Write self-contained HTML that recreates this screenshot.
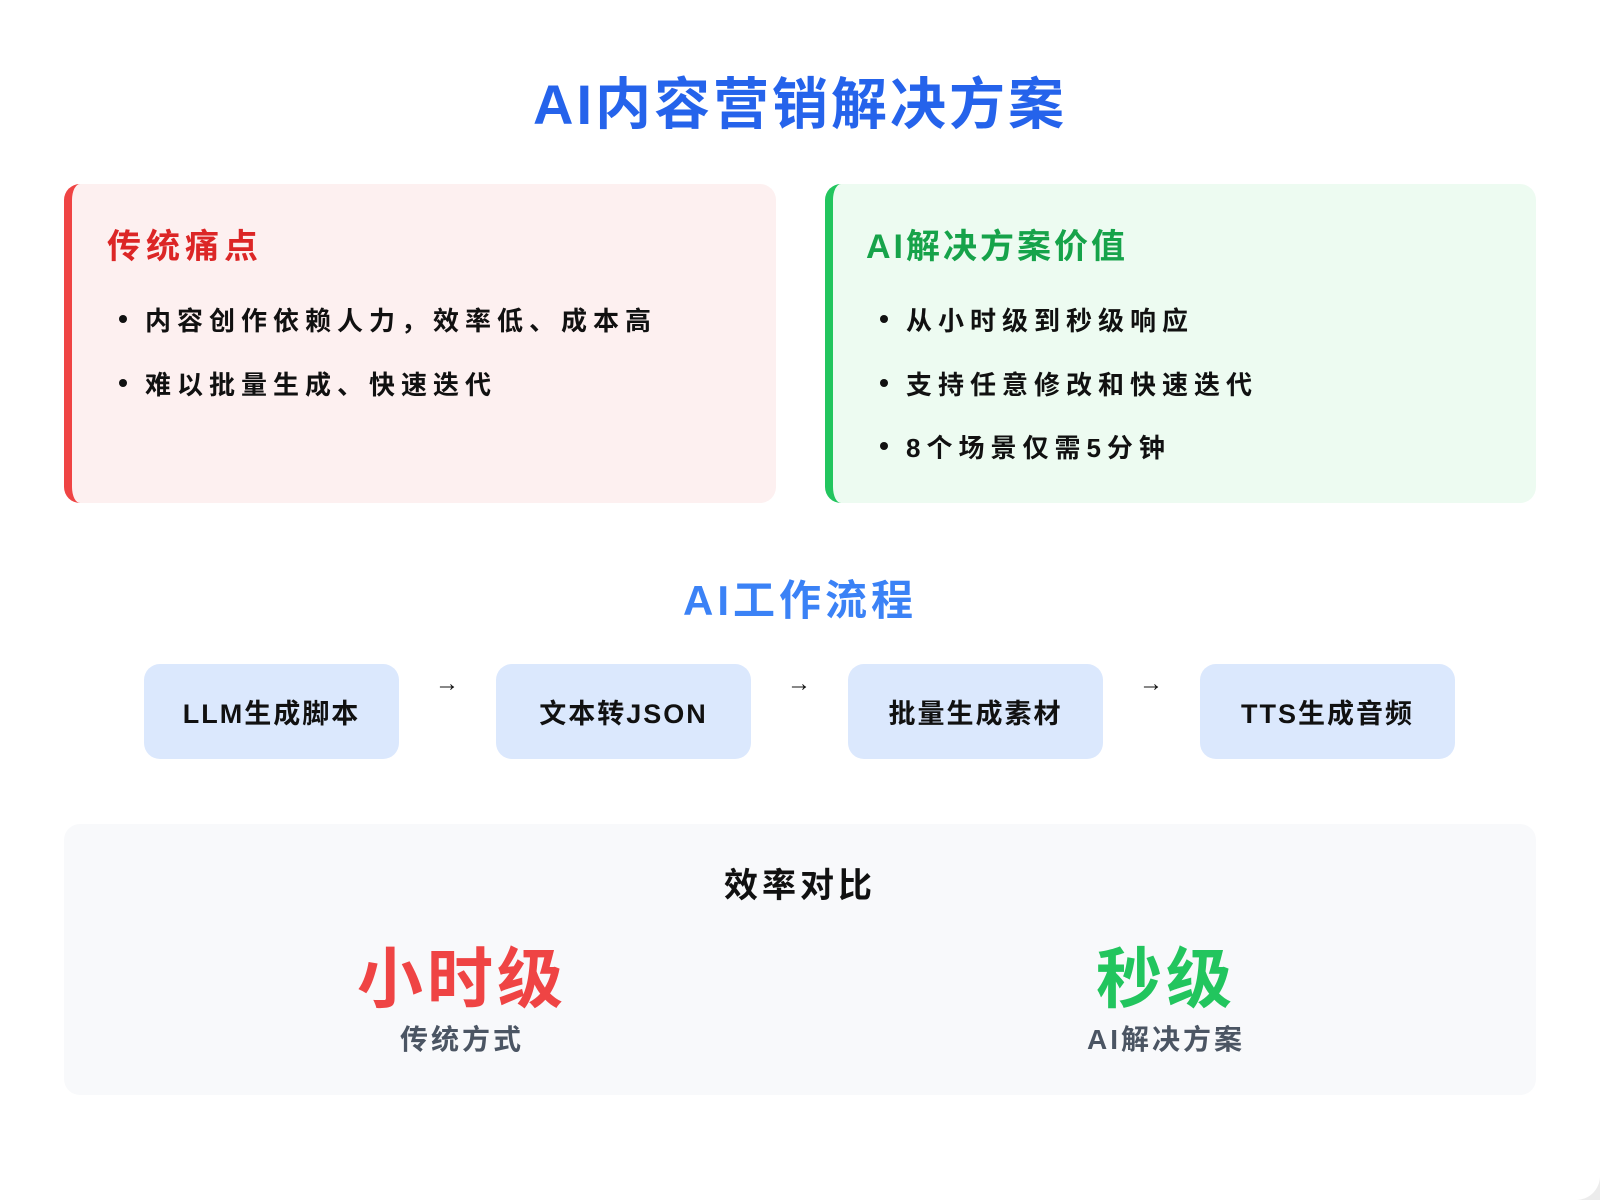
<!DOCTYPE html>
<html><head><meta charset="utf-8"><style>
body{margin:0;width:1600px;height:1200px;background:#ececec;font-family:"Liberation Sans","Noto Sans CJK SC",sans-serif;}
#pg{position:absolute;left:0;top:0;width:1600px;height:1200px;background:#fff;border-radius:0 0 24px 0;overflow:hidden}
.a{position:absolute}
.t{position:absolute;white-space:nowrap;font-weight:700}
.card{position:absolute;top:184px;height:319px;border-radius:16px;box-sizing:border-box}
.li{position:absolute;font-size:26px;font-weight:700;color:#111;white-space:nowrap;letter-spacing:6px}
.li:before{content:"";position:absolute;left:-26px;top:14px;width:8px;height:8px;border-radius:50%;background:#111}
.fb{position:absolute;top:664px;width:255px;height:95px;background:#dbe8fd;border-radius:16px;display:flex;align-items:center;justify-content:center;font-size:27px;font-weight:700;color:#111;letter-spacing:2px}
.ar{position:absolute;top:670px;font-size:24px;color:#111}
</style></head><body><div id="pg">
<div class="t" style="left:0;width:1600px;text-align:center;top:60px;font-size:56px;color:#2563eb;letter-spacing:3px">AI内容营销解决方案</div>

<div class="card" style="left:64px;width:712px;background:#fdf0f0;border-left:8px solid #ef4444"></div>
<div class="t" style="left:107px;top:219px;font-size:34px;color:#dc2626;letter-spacing:5px">传统痛点</div>
<div class="li" style="left:145px;top:301px">内容创作依赖人力，效率低、成本高</div>
<div class="li" style="left:145px;top:365px">难以批量生成、快速迭代</div>

<div class="card" style="left:825px;width:711px;background:#edfbf1;border-left:8px solid #22c55e"></div>
<div class="t" style="left:866px;top:219px;font-size:34px;color:#16a34a;letter-spacing:3px">AI解决方案价值</div>
<div class="li" style="left:906px;top:301px">从小时级到秒级响应</div>
<div class="li" style="left:906px;top:365px">支持任意修改和快速迭代</div>
<div class="li" style="left:906px;top:428px">8个场景仅需5分钟</div>

<div class="t" style="left:0;width:1600px;text-align:center;top:567px;font-size:42px;color:#3b82f6;letter-spacing:4px">AI工作流程</div>
<div class="fb" style="left:144px">LLM生成脚本</div>
<div class="ar" style="left:435px">→</div>
<div class="fb" style="left:496px">文本转JSON</div>
<div class="ar" style="left:787px">→</div>
<div class="fb" style="left:848px">批量生成素材</div>
<div class="ar" style="left:1139px">→</div>
<div class="fb" style="left:1200px">TTS生成音频</div>

<div class="a" style="left:64px;top:824px;width:1472px;height:271px;background:#f8f9fb;border-radius:16px"></div>
<div class="t" style="left:0;width:1600px;text-align:center;top:858px;font-size:34px;color:#111;letter-spacing:4px">效率对比</div>
<div class="t" style="left:262px;width:400px;text-align:center;top:926px;font-size:66px;color:#ef4444;letter-spacing:4px">小时级</div>
<div class="t" style="left:262px;width:400px;text-align:center;top:1018px;font-size:28px;color:#4b5563;letter-spacing:3px">传统方式</div>
<div class="t" style="left:966px;width:400px;text-align:center;top:926px;font-size:66px;color:#22c55e;letter-spacing:4px">秒级</div>
<div class="t" style="left:966px;width:400px;text-align:center;top:1018px;font-size:28px;color:#4b5563;letter-spacing:3px">AI解决方案</div>
</div></body></html>
